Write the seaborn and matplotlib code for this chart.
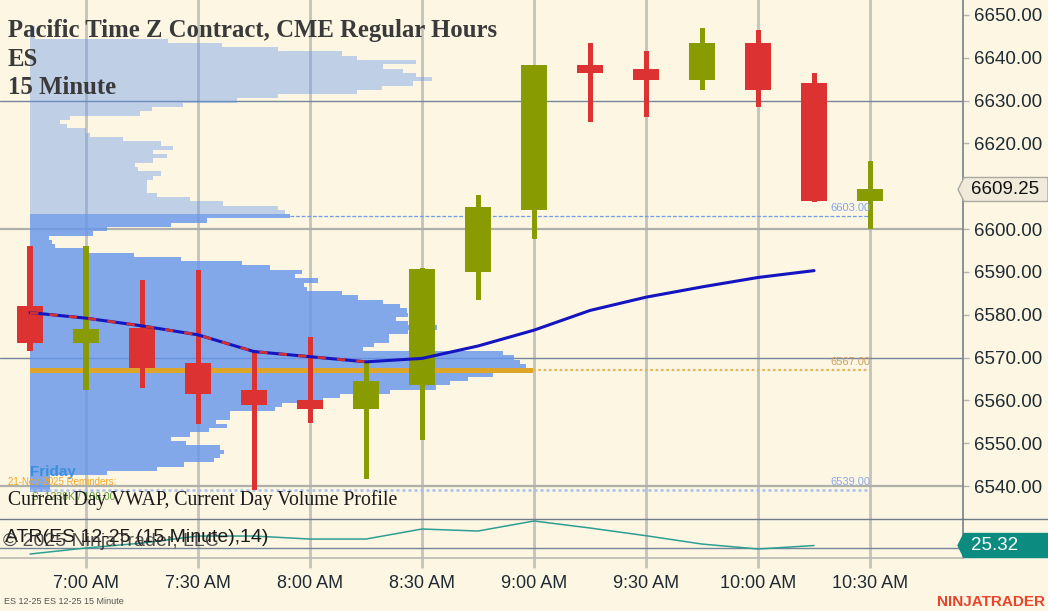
import numpy as np
import pandas as pd
import seaborn as sns
import matplotlib.pyplot as plt
from matplotlib.patches import Polygon
from matplotlib.lines import Line2D
from matplotlib.ticker import FormatStrFormatter

sns.set_theme(style="ticks")
plt.rcParams['font.family'] = ['Liberation Sans', 'DejaVu Sans']

# ---- data ----
bar_times = ["6:45", "7:00", "7:15", "7:30", "7:45", "8:00", "8:15", "8:30",
             "8:45", "9:00", "9:15", "9:30", "9:45", "10:00", "10:15", "10:30"]
opens  = [6582.0, 6573.5, 6577.0, 6568.75, 6562.5, 6560.0, 6558.0, 6563.5,
          6590.0, 6604.5, 6638.25, 6637.5, 6634.75, 6643.5, 6634.0, 6606.5]
highs  = [6596.0, 6596.0, 6588.0, 6590.5, 6571.75, 6574.75, 6569.0, 6591.0,
          6608.0, 6638.25, 6643.5, 6641.5, 6647.0, 6646.5, 6636.5, 6616.0]
lows   = [6571.5, 6562.5, 6563.0, 6554.5, 6539.0, 6554.75, 6541.75, 6550.75,
          6583.5, 6597.75, 6625.0, 6626.25, 6632.5, 6628.5, 6606.25, 6600.0]
closes = [6573.5, 6576.75, 6567.5, 6561.5, 6559.0, 6558.0, 6564.5, 6590.75,
          6605.25, 6638.25, 6636.5, 6634.75, 6643.5, 6632.5, 6606.5, 6609.25]

vwap = [6580.5, 6579.2, 6577.4, 6575.3, 6571.4, 6570.2, 6569.0, 6569.8,
        6572.7, 6576.4, 6581.0, 6584.1, 6586.5, 6588.7, 6590.3]
atr = [24.22, 25.0, 25.64, 26.55, 26.55, 26.16, 26.16, 27.46,
       27.2, 28.5, 27.59, 26.59, 25.51, 24.87, 25.32]

profile_prices = list(range(6647, 6538, -1))
profile_vol = [5, 5, 5, 138, 192, 248, 312, 327, 386, 353, 373, 386, 402, 383,
               352, 327, 248, 207, 153, 122, 110, 40, 30, 37, 56, 60, 93, 131,
               143, 123, 137, 123, 105, 108, 131, 123, 117, 117, 117, 127, 160,
               193, 248, 255,
               260, 177, 141, 77, 63, 19, 22, 25, 58, 104, 151, 212, 240, 272,
               265, 288, 274, 277, 312, 328, 353, 370, 377, 378, 366, 378, 407,
               378, 359, 359, 344, 333, 473, 484, 490, 496, 503, 463, 438, 420,
               406, 360, 310, 293, 252, 245, 200, 200, 186, 197, 179, 160, 141,
               156, 190, 194, 190, 184, 154, 127, 77, 20, 20, 20, 20]
poc, vah, val = 6567, 6603, 6539
last_price = 6609.25

price_ticks = [6540, 6550, 6560, 6570, 6580, 6590, 6600, 6620, 6630, 6640, 6650]
tick_labels = ["7:00 AM", "7:30 AM", "8:00 AM", "8:30 AM",
               "9:00 AM", "9:30 AM", "10:00 AM", "10:30 AM"]

# ---- styles ----
BG = "#FDF6E3"
UP = "#889B00"
DN = "#DD3232"
GRID = "#C3C3BB"
SLATE = "#74869A"

fig = plt.figure(figsize=(10.48, 6.11), dpi=100, facecolor=BG)
ax = fig.add_axes([0, 0.1506, 0.9189, 0.8494], facecolor=BG)
ax2 = fig.add_axes([0, 0.0867, 0.9189, 0.0639], facecolor=BG, sharex=ax)

idx = np.arange(len(bar_times))
tick_pos = [bar_times.index(t.split()[0]) for t in tick_labels]

ax.set_xlim(-0.536, 16.66)
ax.set_ylim(6532.3, 6653.5)
ax2.set_ylim(23.7, 28.76)

# grid
for t in tick_pos:
    ax.axvline(t, color=GRID, lw=2, zorder=0.5)
    ax2.axvline(t, color=GRID, lw=2, zorder=0.5)
for lvl in range(6540, 6651, 30):
    if (lvl - 6540) % 60 == 0:
        ax.axhline(lvl, color="#B0B0AA", lw=1.6, zorder=0.6)
    else:
        ax.axhline(lvl, color=SLATE, lw=1, zorder=0.6)
ax2.axhline(25.0, color=SLATE, lw=1, zorder=0.6)

# volume profile
scale = 1 / 56.0
pp = np.array(profile_prices)
pv = np.array(profile_vol, dtype=float)


def step_fill(mask, color, alpha):
    p = pp[mask][::-1]
    v = pv[mask][::-1]
    ys = np.column_stack([p - 0.5, p + 0.5]).ravel()
    xs = np.repeat(v, 2) * scale
    ax.fill_betweenx(ys, 0, xs, color=color, alpha=alpha, lw=0, zorder=1)


step_fill(pp > vah, "cornflowerblue", 0.4)
step_fill(pp <= vah, "cornflowerblue", 0.8)
poc_w = pv[pp == poc][0] * scale
ax.barh(poc, poc_w, left=0, height=1.0, color="#DDA62A", lw=0, zorder=1.2)

# value area / poc lines
vah_w = pv[pp == vah][0] * scale
ax.plot([vah_w, idx[-1]], [vah, vah], color="#6E9DE8", lw=0.9, ls=(0, (3, 1.5)), zorder=1.3)
ax.plot([poc_w, idx[-1]], [poc, poc], color="#E2B865", lw=1.6, ls=(0, (1.2, 1.2)), zorder=1.3)
ax.plot([0, idx[-1]], [val, val], color="#A9BFEE", lw=1.8, ls=(0, (1.2, 1.2)), zorder=1.3)
ax.text(idx[-1], vah + 0.8, f"{vah:.2f}", color="#7FA6E8", fontsize=8, ha="right", va="bottom", zorder=4)
ax.text(idx[-1], poc + 0.8, f"{poc:.2f}", color="#C9A062", fontsize=8, ha="right", va="bottom", zorder=4)
ax.text(idx[-1], val + 0.8, f"{val:.2f}", color="#8FA8E8", fontsize=8, ha="right", va="bottom", zorder=4)

# candles
o = np.array(opens); h = np.array(highs); l = np.array(lows); c = np.array(closes)
cols = [UP if cc >= oo else DN for oo, cc in zip(o, c)]
ax.bar(idx, h - l, bottom=l, width=0.09, color=cols, lw=0, zorder=2)
ax.bar(idx, np.abs(c - o), bottom=np.minimum(o, c), width=0.48, color=cols, lw=0, zorder=2.1)

# VWAP
vw = pd.DataFrame({"bar": idx[:len(vwap)], "vwap": vwap})
sns.lineplot(data=vw, x="bar", y="vwap", ax=ax, color="#1414C0", lw=2.2, zorder=3)
fall = vw.iloc[:7]
sns.lineplot(data=fall, x="bar", y="vwap", ax=ax, color="#D03030", lw=2.0,
             dashes=False, zorder=3.1).lines[-1].set_linestyle((0, (3, 4)))

# ATR
ad = pd.DataFrame({"bar": idx[:len(atr)], "atr": atr})
sns.lineplot(data=ad, x="bar", y="atr", ax=ax2, color="#2E9E92", lw=1.1, zorder=3)

# axes cosmetics
for a in (ax, ax2):
    for s in ("top", "left"):
        a.spines[s].set_visible(False)
    a.spines["right"].set_color("#7B8590")
    a.set_xlabel("")
    a.set_ylabel("")
ax.spines["bottom"].set_visible(False)
ax2.spines["bottom"].set_color("#B8B8B4")
ax2.spines["bottom"].set_linewidth(1.2)

ax.yaxis.tick_right()
ax.set_yticks(price_ticks)
ax.yaxis.set_major_formatter(FormatStrFormatter("%.2f"))
ax.tick_params(axis="y", length=4, width=1, color="#B5B5B0", labelsize=13.5,
               labelcolor="#1E2B33", pad=4)
ax.tick_params(axis="x", bottom=False, labelbottom=False)
ax2.set_yticks([])
ax2.set_xticks(tick_pos)
ax2.set_xticklabels(tick_labels)
ax2.tick_params(axis="x", length=7, width=2, color=GRID, labelsize=13,
                labelcolor="#1E2B33", pad=5)

# panel separator across full width
sep_y = 0.0867 + 0.0639
fig.add_artist(Line2D([0, 1], [sep_y, sep_y], transform=fig.transFigure, color="#6C7A89", lw=1))

W, H = 1048.0, 611.0


def price_tag(a, value, label, face, edge, tcolor):
    x0 = a.transAxes.transform((1, 0))[0]
    y0 = a.transData.transform((0, value))[1]
    hh = 12
    pts = [(x0 - 5, y0), (x0 + 1, y0 + hh), (W, y0 + hh), (W, y0 - hh), (x0 + 1, y0 - hh)]
    fig.add_artist(Polygon([(px / W, py / H) for px, py in pts], closed=True,
                           transform=fig.transFigure, fc=face, ec=edge, lw=1, zorder=5))
    fig.text((x0 + 8) / W, y0 / H, label, fontsize=13.5, color=tcolor,
             ha="left", va="center", zorder=6)


price_tag(ax, last_price, f"{last_price:.2f}", "#F0EADA", "#A9A9A2", "#111111")
price_tag(ax2, atr[-1], f"{atr[-1]:.2f}", "#0C8C80", "#0C8C80", "white")

# texts
serif = ["Liberation Serif", "DejaVu Serif"]
for txt, ypx in [("Pacific Time Z Contract, CME Regular Hours", 31), ("ES", 59), ("15 Minute", 87)]:
    fig.text(8 / W, 1 - ypx / H, txt, family=serif, fontsize=17.8, fontweight="bold",
             color="#3A3A3A", va="center", zorder=6)

fig.text(30 / W, 1 - 472 / H, "Friday", fontsize=11, fontweight="bold", color="#3D8FDB",
         va="center", zorder=6)
fig.text(8 / W, 1 - 482 / H, "21-Nov-2025 Reminders:", fontsize=7, color="#F5A623",
         va="center", zorder=6)
fig.text(32 / W, 1 - 497 / H, "S: 1238K / 108.00", fontsize=7.5, color="#5E9A3A",
         va="center", zorder=6)
fig.text(8 / W, 1 - 500 / H, "Current Day VWAP, Current Day Volume Profile", family=serif,
         fontsize=14.2, color="#1A1A1A", va="center", zorder=7)

fig.text(5 / W, 1 - 537 / H, "ATR(ES 12-25 (15 Minute),14)", fontsize=14, color="#1A1A1A",
         va="center", zorder=6)
fig.text(3 / W, 1 - 541 / H, "\u00a9 2025 NinjaTrader, LLC", fontsize=14, color="#333333",
         alpha=0.85, va="center", zorder=6)

fig.text(4 / W, 1 - 602 / H, "ES 12-25 ES 12-25 15 Minute", fontsize=6.5, color="#555555",
         va="center")
fig.text(1045 / W, 1 - 602 / H, "NINJATRADER", fontsize=11, fontweight="bold",
         color="#E8452C", ha="right", va="center")

fig.savefig("out.png", dpi=100, facecolor=BG)
